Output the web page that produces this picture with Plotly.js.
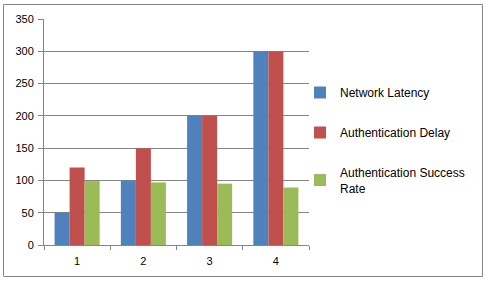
<!DOCTYPE html>
<html><head><meta charset="utf-8">
<script src="https://cdn.plot.ly/plotly-3.0.1.min.js"></script>
<style>html,body{margin:0;padding:0;background:#fff}#chart{width:489px;height:281px}</style>
</head><body><div id="chart"></div>
<script>
const categories = ['1', '2', '3', '4'];
const networkLatency = [50, 100, 200, 300];
const authDelay = [120, 150, 200, 300];
const authSuccessRate = [99, 97, 95, 89];
const seriesNames = ['Network Latency', 'Authentication Delay', 'Authentication Success<br>Rate'];
const colors = ['#4F81BD', '#C0504D', '#9BBB59'];
const yTicks = [0, 50, 100, 150, 200, 250, 300, 350];

const series = [networkLatency, authDelay, authSuccessRate];
const data = series.map((vals, i) => ({
  type: 'bar', x: categories, y: vals, name: seriesNames[i],
  legendgroup: 'g' + i,
  marker: {color: colors[i], line: {width: 0}}, hoverinfo: 'none'
}));

const L = 44, R = 309, T = 19, B = 245, W = 489, H = 281;
const pw = R - L, ph = B - T;
const px = v => (v - L) / pw, py = v => (B - v) / ph;

const layout = {
  width: W, height: H,
  margin: {l: L, r: W - R, t: T, b: H - B, pad: 0, autoexpand: false},
  paper_bgcolor: '#fff', plot_bgcolor: '#fff',
  font: {family: '"Liberation Sans", Arial, sans-serif', size: 11, color: '#000'},
  barmode: 'group', bargap: 0.32, bargroupgap: 0,
  showlegend: true,
  legend: {x: px(300), xanchor: 'left', y: py(78), yanchor: 'top',
           bgcolor: 'rgba(0,0,0,0)', borderwidth: 0, tracegroupgap: 21,
           font: {size: 12}, itemwidth: 30},
  xaxis: {type: 'category', showline: true, linecolor: '#868686', linewidth: 1,
          ticks: 'outside', tickson: 'boundaries', ticklen: 4, tickcolor: '#868686',
          showgrid: false, zeroline: false, ticklabelstandoff: 6, fixedrange: true},
  yaxis: {range: [0, 350], tickvals: yTicks, ticktext: yTicks.map(String),
          showline: true, linecolor: '#868686', linewidth: 1,
          ticks: 'outside', ticklen: 5, tickcolor: '#868686',
          showgrid: true, gridcolor: '#868686', gridwidth: 1, zeroline: false,
          ticklabelstandoff: 2, fixedrange: true},
  shapes: [{type: 'rect', xref: 'paper', yref: 'paper', layer: 'above',
            x0: px(3.5), x1: px(482.5), y0: py(276.5), y1: py(4.5),
            line: {color: '#868686', width: 1}, fillcolor: 'rgba(0,0,0,0)'}]
};
Plotly.newPlot('chart', data, layout, {staticPlot: true, displayModeBar: false});
</script></body></html>
